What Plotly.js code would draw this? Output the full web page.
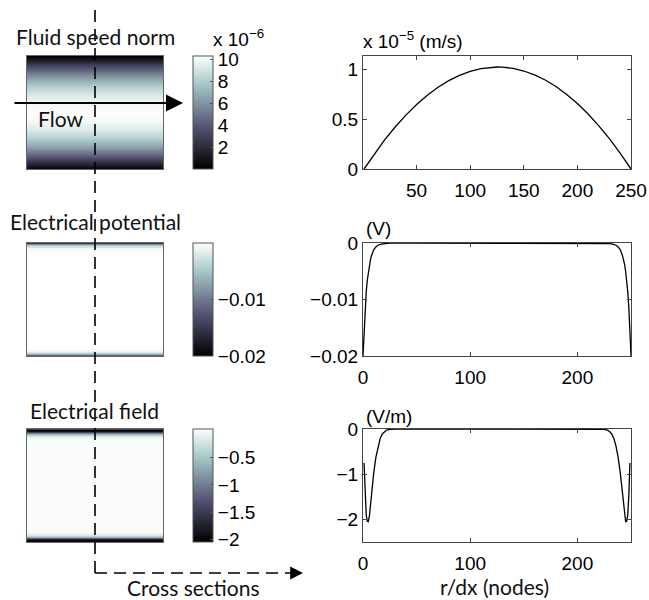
<!DOCTYPE html>
<html>
<head>
<meta charset="utf-8">
<script src="https://cdn.plot.ly/plotly-3.0.1.min.js"></script>
<style>html,body{margin:0;padding:0;background:#fff;}#chart{width:649px;height:600px;}</style>
</head>
<body>
<div id="chart"></div>
<script>
// ---- data ----
// Fluid speed norm cross-section (units of 1e-5 m/s)
const nodesV = [1,10,20,30,40,50,60,70,80,90,100,110,120,125,130,140,150,160,170,180,190,200,210,220,230,240,250];
const velocity = [0,0.142,0.288,0.420,0.539,0.645,0.738,0.817,0.884,0.937,0.977,1.004,1.018,1.020,1.019,1.006,0.980,0.942,0.890,0.825,0.746,0.655,0.550,0.432,0.301,0.157,0];
// Electrical potential cross-section (V)
const nodesP = [0,1,2,3,4,5,6,7,8,10,12,14,17,20,25,50,100,150,200,225,230,233,236,238,240,242,243,244,245,246,247,248,249,250];
const potential = [-0.0200,-0.0152,-0.0115,-0.0087,-0.0066,-0.0050,-0.0038,-0.0029,-0.0022,-0.0012,-0.0007,-0.0004,-0.0002,-0.0001,0,0,0,0,0,0,-0.0001,-0.0002,-0.0004,-0.0007,-0.0012,-0.0022,-0.0029,-0.0038,-0.0050,-0.0066,-0.0087,-0.0115,-0.0152,-0.0200];
// Electrical field cross-section (V/m)
const nodesE = [1,2,3,4,5,6,7,8,9,10,12,14,16,18,20,22,25,30,50,100,150,200,220,225,228,230,232,234,236,238,240,241,242,243,244,245,246,247,248,249];
const field = [-0.75,-1.45,-1.90,-2.04,-2.05,-1.92,-1.68,-1.42,-1.18,-0.97,-0.63,-0.38,-0.21,-0.11,-0.055,-0.025,-0.008,0,0,0,0,0,0,-0.008,-0.025,-0.055,-0.11,-0.21,-0.38,-0.63,-0.97,-1.18,-1.42,-1.68,-1.92,-2.05,-2.04,-1.90,-1.45,-0.75];

const xTicksV = [50,100,150,200,250];
const yTicksV = [0,0.5,1];
const xTicksPE = [0,100,200];
const yTicksP = [0,-0.01,-0.02];
const yTicksE = [0,-1,-2];
const cbTicksV = [2,4,6,8,10];
const cbTicksP = [-0.01,-0.02];
const cbTicksE = [-0.5,-1,-1.5,-2];

// ---- helpers ----
const W = 649, H = 600;
const px = v => v / W;
const py = v => 1 - v / H;
const bone = [[0,'rgb(0,0,0)'],[0.375,'rgb(84,84,116)'],[0.75,'rgb(167,199,199)'],[1,'rgb(255,255,255)']];
const TICKFONT = {family:'Liberation Sans, Arial, sans-serif', size:19, color:'#000'};
const TXTFONT = {family:'Lato, sans-serif', size:21, color:'#111'};
const rows = [[56,169],[243,356],[429,542]];

function heatZ(vals, k){ return vals.map(v => [v*k, v*k]); }

function cb(row, ticks){
  const r = rows[row];
  return {x: px(193), xanchor:'left', y: py((r[0]+r[1])/2), yanchor:'middle',
    thickness:20, thicknessmode:'pixels', len:r[1]-r[0], lenmode:'pixels',
    xpad:0, ypad:0, outlinewidth:1, outlinecolor:'#555',
    tickvals:ticks, ticks:'inside', ticklen:3, tickcolor:'#555',
    tickfont:TICKFONT, showticklabels:true};
}

const traces = [
  {type:'heatmap', x:[0,1], y:nodesV, z:heatZ(velocity,10), colorscale:bone, zmin:0, zmax:10.3, zsmooth:'best',
   xaxis:'x', yaxis:'y', colorbar:cb(0, cbTicksV), hoverinfo:'skip'},
  {type:'heatmap', x:[0,1], y:nodesP, z:heatZ(potential,1), colorscale:bone, zmin:-0.02, zmax:0, zsmooth:'best',
   xaxis:'x2', yaxis:'y2', colorbar:cb(1, cbTicksP), hoverinfo:'skip'},
  {type:'heatmap', x:[0,1], y:nodesE, z:heatZ(field,1), colorscale:bone, zmin:-2.05, zmax:0.03, zsmooth:'best',
   xaxis:'x3', yaxis:'y3', colorbar:cb(2, cbTicksE), hoverinfo:'skip'},
  {type:'scatter', mode:'lines', x:nodesV, y:velocity, xaxis:'x4', yaxis:'y4', line:{color:'#000', width:1.3}},
  {type:'scatter', mode:'lines', x:nodesP, y:potential, xaxis:'x5', yaxis:'y5', line:{color:'#000', width:1.3}},
  {type:'scatter', mode:'lines', x:nodesE, y:field, xaxis:'x6', yaxis:'y6', line:{color:'#000', width:1.3}}
];

function heatAxes(n, row, yr){
  const r = rows[row];
  const common = {showline:true, mirror:true, linecolor:'#666', linewidth:1, showticklabels:false, ticks:'', showgrid:false, zeroline:false, fixedrange:true};
  const sfx = n === 1 ? '' : String(n);
  return [
    Object.assign({domain:[px(27), px(163)], range:[0,1], anchor:'y'+sfx}, common),
    Object.assign({domain:[py(r[1]), py(r[0])], range:yr, anchor:'x'+sfx}, common)
  ];
}
function lineAxes(n, row, xr, xt, yr, yt){
  const r = rows[row];
  const common = {showline:true, mirror:'ticks', linecolor:'#444', linewidth:1, ticks:'inside', ticklen:4, tickcolor:'#444',
    tickfont:TICKFONT, showgrid:false, zeroline:false, fixedrange:true};
  return [
    Object.assign({domain:[px(363), px(631)], range:xr, tickvals:xt, ticklabelstandoff:4, anchor:'y'+n}, common),
    Object.assign({domain:[py(r[1]), py(r[0])], range:yr, tickvals:yt, ticklabelstandoff:0, anchor:'x'+n}, common)
  ];
}

const [hx1, hy1] = heatAxes(1, 0, [1,250]);
const [hx2, hy2] = heatAxes(2, 1, [0,250]);
const [hx3, hy3] = heatAxes(3, 2, [1,249]);
const [lx1, ly1] = lineAxes(4, 0, [0,250], xTicksV, [0,1.13], yTicksV);
const [lx2, ly2] = lineAxes(5, 1, [0,250], xTicksPE, [-0.02,0], yTicksP);
const [lx3, ly3] = lineAxes(6, 2, [0,250], xTicksPE, [-2.5,0], yTicksE);

const dash = {color:'#000', width:1.6, dash:'12px,7px'};
const layout = {
  width:W, height:H, margin:{l:0,r:0,t:0,b:0}, paper_bgcolor:'#fff', plot_bgcolor:'#fff', showlegend:false,
  xaxis:hx1, yaxis:hy1, xaxis2:hx2, yaxis2:hy2, xaxis3:hx3, yaxis3:hy3,
  xaxis4:lx1, yaxis4:ly1, xaxis5:lx2, yaxis5:ly2, xaxis6:lx3, yaxis6:ly3,
  shapes:[
    {type:'line', xref:'paper', yref:'paper', x0:px(95), x1:px(95), y0:py(10), y1:py(573), line:dash, layer:'above'},
    {type:'line', xref:'paper', yref:'paper', x0:px(95), x1:px(296), y0:py(573), y1:py(573), line:dash, layer:'above'}
  ],
  annotations:[
    {xref:'paper', yref:'paper', x:px(303), y:py(573), ax:-8, ay:0, text:'', showarrow:true, arrowhead:2, arrowsize:1.6, arrowwidth:1.6, arrowcolor:'#000'},
    {xref:'paper', yref:'paper', x:px(183), y:py(103), ax:-170, ay:0, text:'', showarrow:true, arrowhead:2, arrowsize:1.7, arrowwidth:2, arrowcolor:'#000'},
    {xref:'paper', yref:'paper', x:px(95), y:py(36), text:'Fluid speed norm', showarrow:false, font:TXTFONT, xanchor:'center', yanchor:'middle'},
    {xref:'paper', yref:'paper', x:px(60), y:py(118), text:'Flow', showarrow:false, font:TXTFONT, xanchor:'center', yanchor:'middle'},
    {xref:'paper', yref:'paper', x:px(95), y:py(221), text:'Electrical potential', showarrow:false, font:TXTFONT, xanchor:'center', yanchor:'middle'},
    {xref:'paper', yref:'paper', x:px(94), y:py(410), text:'Electrical field', showarrow:false, font:TXTFONT, xanchor:'center', yanchor:'middle'},
    {xref:'paper', yref:'paper', x:px(193), y:py(587), text:'Cross sections', showarrow:false, font:TXTFONT, xanchor:'center', yanchor:'middle'},
    {xref:'paper', yref:'paper', x:px(494), y:py(586), text:'r/dx (nodes)', showarrow:false, font:TXTFONT, xanchor:'center', yanchor:'middle'},
    {xref:'paper', yref:'paper', x:px(211), y:py(38), text:'x 10<sup>−6</sup>', showarrow:false, font:TICKFONT, xanchor:'left', yanchor:'middle'},
    {xref:'paper', yref:'paper', x:px(361), y:py(40), text:'x 10<sup>−5</sup> (m/s)', showarrow:false, font:TICKFONT, xanchor:'left', yanchor:'middle'},
    {xref:'paper', yref:'paper', x:px(364), y:py(229), text:'(V)', showarrow:false, font:TICKFONT, xanchor:'left', yanchor:'middle'},
    {xref:'paper', yref:'paper', x:px(364), y:py(416), text:'(V/m)', showarrow:false, font:TICKFONT, xanchor:'left', yanchor:'middle'}
  ]
};

Plotly.newPlot('chart', traces, layout, {staticPlot:true, displayModeBar:false});
</script>
</body>
</html>
